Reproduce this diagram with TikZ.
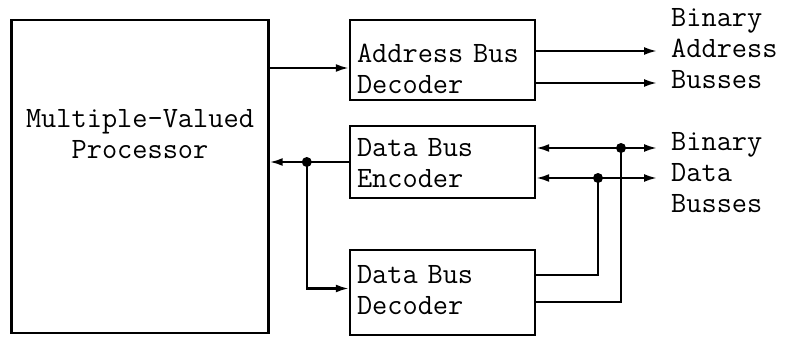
\documentclass[tikz,border=0pt]{standalone}
\usepackage{fontspec}
\usetikzlibrary{arrows.meta}
\tikzstyle{procbox}=[draw,rectangle,line width=2.4pt,minimum width=257pt,minimum height=313pt,inner sep=0pt]
\tikzstyle{blockb}=[draw,rectangle,line width=2.4pt,minimum width=185pt,inner xsep=7pt,inner ysep=0pt,text width=171pt,align=left,text height=20pt,text depth=30pt]
\tikzstyle{busname}=[align=left,inner sep=0pt,anchor=west]
\tikzstyle{wire}=[line width=2.2pt]
\tikzstyle{arr}=[wire,-{Latex[length=13pt,width=8pt]}]
\tikzstyle{arrb}=[wire,{Latex[length=13pt,width=8pt]}-{Latex[length=13pt,width=8pt]}]

\begin{document}
\begin{tikzpicture}[x=1pt,y=-1pt,font=\fontsize{29.5}{31}\selectfont\ttfamily]
    \useasboundingbox (0,0) rectangle (788,337);
    \node[procbox] (proc) at (140,176.5) {};
    \node[align=center] (proclbl) at (140,134) {Multiple-Valued\\Processor};
    \node[blockb,minimum height=80pt,text depth=14pt] (adec) at (442.5,60) {Address Bus\\Decoder};
    \node[blockb,minimum height=72pt] (denc) at (442.5,162) {Data Bus\\Encoder};
    \node[blockb,minimum height=85pt,text depth=39pt] (ddec) at (442.5,292.5) {Data Bus\\Decoder};
    \node[busname] (abus) at (671,49) {Binary\\Address\\Busses};
    \node[busname] (dbus) at (671,173) {Binary\\Data\\Busses};

    \coordinate (ain) at ([yshift=-8pt]adec.west);
    \coordinate (j1) at ([xshift=-42pt]denc.west);
    \coordinate (ao1) at (657,51);
    \coordinate (ao2) at (657,83);
    \coordinate (do1) at (657,148);
    \coordinate (do2) at (657,178);
    \coordinate (j2) at (621,148);
    \coordinate (j3) at (598,178);

    % processor side
    \draw[arr] (proc.east |- ain) -- (ain);
    \draw[arr] (denc.west) -- (proc.east |- denc.west);
    \draw[arr] (j1) |- ([yshift=4pt]ddec.west);

    % bus side
    \foreach \to in {ao1,ao2}
    \draw[arr] (adec.east |- \to) -- (\to);
    \foreach \to in {do1,do2}
    \draw[arrb] (denc.east |- \to) -- (\to);
    \draw[wire] ([yshift=17.5pt]ddec.east) -| (j3);
    \draw[wire] ([yshift=-9.5pt]ddec.east) -| (j2);

    \foreach \j in {j1,j2,j3}
    \fill (\j) circle (5pt);
\end{tikzpicture}
\end{document}
